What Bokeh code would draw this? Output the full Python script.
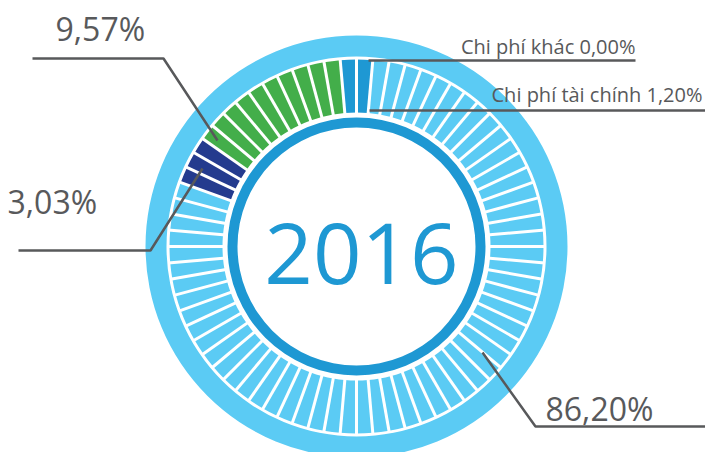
import math
from bokeh.plotting import figure
from bokeh.models import Range1d
from bokeh.core.properties import value
from bokeh.embed import file_html
from bokeh.resources import INLINE

# ---- data (clockwise from 12 o'clock) ----
categories = ["Chi phí tài chính", "Nhóm 86,20%", "Nhóm 3,03%", "Nhóm 9,57%", "Chi phí khác"]
percent = [1.20, 86.20, 3.03, 9.57, 0.00]
bar_counts = [1, 57, 3, 10, 1]          # number of ring bars drawn per category
colors = ["#1e98d3", "#5bcbf4", "#243b8e", "#43ae4a", "#1e98d3"]
center_label = "2016"

LIGHT = "#5bcbf4"
MID = "#1e98d3"
GREY = "#58595b"
FONT = value("Open Sans")
BASE_SHIFT = 0.38   # renderer places alphabetic baseline lower by ~this many em


def fmt(v):
    return f"{v:.2f}".replace(".", ",") + "%"


# figure in screen-pixel coordinates (y negated)
W, H = 705, 452
p = figure(width=W, height=H, output_backend="svg", toolbar_location=None,
           x_range=Range1d(0, W), y_range=Range1d(-H, 0),
           x_axis_type=None, y_axis_type=None, min_border=0)
p.outline_line_color = None
p.background_fill_color = "white"
p.border_fill_color = "white"

cx, cy = 356, -246

# outer light ring and inner dark ring
p.annulus(x=cx, y=cy, inner_radius=190, outer_radius=211, fill_color=LIGHT, line_color=None)
p.annulus(x=cx, y=cy, inner_radius=119, outer_radius=129, fill_color=MID, line_color=None)

# ring bars
n_total = sum(bar_counts)
step = 2 * math.pi / n_total
starts, ends, fills = [], [], []
k = 0
for cnt, col in zip(bar_counts, colors):
    for _ in range(cnt):
        t1, t2 = k * step, (k + 1) * step   # clockwise from top
        starts.append(math.pi / 2 - t2)
        ends.append(math.pi / 2 - t1)
        fills.append(col)
        k += 1
p.annular_wedge(x=[cx] * n_total, y=[cy] * n_total, inner_radius=134, outer_radius=187,
                start_angle=starts, end_angle=ends, fill_color=fills, line_color=None)

# white separators between bars
x0, y0, x1, y1 = [], [], [], []
for i in range(n_total):
    a = math.pi / 2 - i * step
    x0.append(cx + 131 * math.cos(a)); y0.append(cy + 131 * math.sin(a))
    x1.append(cx + 189 * math.cos(a)); y1.append(cy + 189 * math.sin(a))
p.segment(x0=x0, y0=y0, x1=x1, y1=y1, line_color="white", line_width=3)


def put_text(x, y_base, t, size, color, align):
    y = y_base - BASE_SHIFT * size
    p.text(x=[x], y=[-y], text=[t], text_font=FONT, text_font_size=value(f"{size}px"),
           text_color=color, text_align=align, text_baseline="alphabetic")


# center year
put_text(361, 285, center_label, 85, MID, "center")

# leader lines (screen coords)
leaders = [
    ([369, 705], [110, 110]),                 # tài chính
    ([482, 535, 705], [352, 426, 426]),       # 86,20
    ([18, 150, 202], [250, 250, 168]),        # 3,03
    ([32, 163, 217], [58, 58, 140]),          # 9,57
    ([368, 635], [60, 60]),                   # khác
]
for xs, ys in leaders:
    p.line(x=xs, y=[-v for v in ys], line_color=GREY, line_width=2.5)

# labels
lab_text = [categories[0] + " " + fmt(percent[0]), fmt(percent[1]), fmt(percent[2]),
            fmt(percent[3]), categories[4] + " " + fmt(percent[4])]
lab_x = [702, 545, 7, 55, 635]
lab_y = [102, 420, 213, 40, 54]
lab_align = ["right", "left", "left", "left", "right"]
lab_size = [20, 32, 32, 32, 20]
for t, x, y, al, sz in zip(lab_text, lab_x, lab_y, lab_align, lab_size):
    put_text(x, y, t, sz, GREY, al)

open("out.html", "w").write(file_html(p, INLINE))
